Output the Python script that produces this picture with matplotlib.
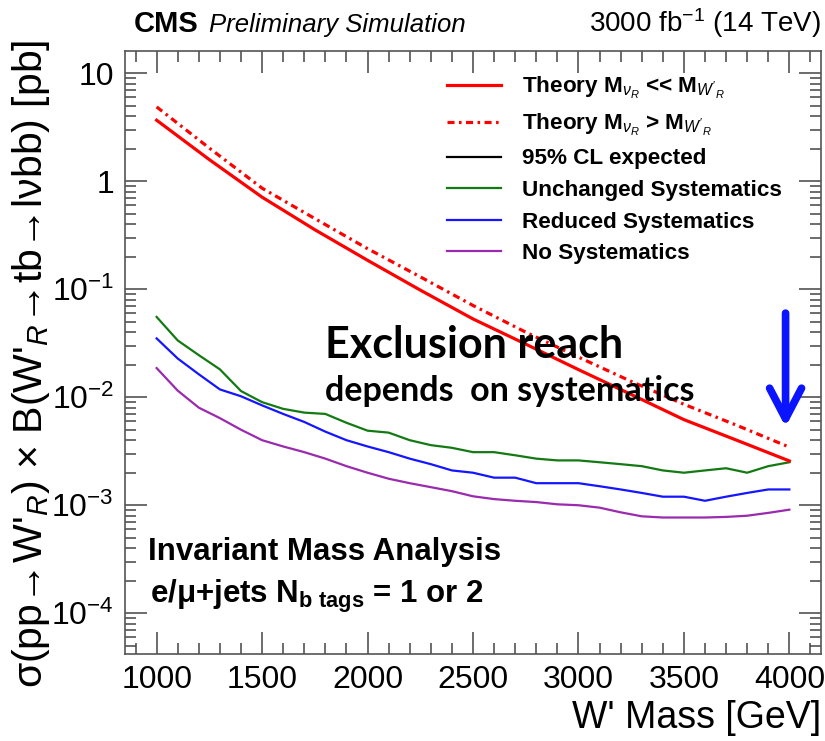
import matplotlib
matplotlib.use("Agg")
import matplotlib.pyplot as plt
from matplotlib import font_manager as fm
from matplotlib.lines import Line2D
from matplotlib.ticker import FixedLocator, NullFormatter


def pick(*names):
    for n in names:
        try:
            fm.findfont(fm.FontProperties(family=n), fallback_to_default=False)
            return n
        except Exception:
            pass
    return "DejaVu Sans"


SANS = pick("Liberation Sans Narrow", "Liberation Sans", "DejaVu Sans")
CALLOUT = pick("Lato", "Open Sans", "DejaVu Sans")

plt.rcParams["font.family"] = [SANS, "DejaVu Sans"]
plt.rcParams["mathtext.fontset"] = "custom"
plt.rcParams["mathtext.rm"] = SANS
plt.rcParams["mathtext.it"] = SANS + ":italic"
plt.rcParams["mathtext.bf"] = SANS + ":bold"

# --- theory cross sections (pb) ---
mass_theory = [1000, 1250, 1500, 1750, 2000, 2250, 2500, 2750, 3000, 3250, 3500, 3750, 4000]
theory_light_nu = [3.66, 1.58, 0.71, 0.355, 0.185, 0.098, 0.053, 0.031, 0.018, 0.0106, 0.0062, 0.0040, 0.00257]
theory_heavy_nu = [4.86, 2.02, 0.86, 0.45, 0.237, 0.130, 0.0706, 0.040, 0.0235, 0.0140, 0.0086, 0.0055, 0.00345]

# --- expected 95% CL limits (pb) ---
mass_limit = [1000, 1100, 1200, 1300, 1400, 1500, 1600, 1700, 1800, 1900, 2000,
              2100, 2200, 2300, 2400, 2500, 2600, 2700, 2800, 2900, 3000,
              3100, 3200, 3300, 3400, 3500, 3600, 3700, 3800, 3900, 4000]
limit_unchanged = [0.0553, 0.0335, 0.0245, 0.0181, 0.0114, 0.0090, 0.0078, 0.0072, 0.0070, 0.0058, 0.0049,
                   0.0047, 0.0040, 0.0036, 0.0034, 0.0031, 0.0031, 0.0029, 0.0027, 0.0026, 0.0026,
                   0.0025, 0.0024, 0.0023, 0.0021, 0.0020, 0.0021, 0.0022, 0.0020, 0.0023, 0.0025]
limit_reduced = [0.0350, 0.0228, 0.0163, 0.0118, 0.0102, 0.0084, 0.0070, 0.0059, 0.0048, 0.0040, 0.0035,
                 0.0031, 0.0027, 0.0024, 0.0021, 0.0020, 0.0018, 0.0018, 0.0016, 0.0016, 0.0016,
                 0.0015, 0.0014, 0.0013, 0.0012, 0.0012, 0.0011, 0.0012, 0.0013, 0.0014, 0.0014]
limit_nosyst = [0.0186, 0.0115, 0.0080, 0.0064, 0.0050, 0.0040, 0.0035, 0.0031, 0.0027, 0.0023, 0.0020,
                0.00176, 0.00160, 0.00147, 0.00135, 0.00121, 0.00114, 0.00110, 0.00107, 0.00102, 0.00100,
                0.00095, 0.00086, 0.00079, 0.00077, 0.00077, 0.00077, 0.00078, 0.00080, 0.00085, 0.00091]

x_ticks = [1000, 1500, 2000, 2500, 3000, 3500, 4000]
x_tick_labels = ["1000", "1500", "2000", "2500", "3000", "3500", "4000"]
y_ticks = [1e-4, 1e-3, 1e-2, 1e-1, 1, 10]
y_tick_labels = [r"$10^{-4}$", r"$10^{-3}$", r"$10^{-2}$", r"$10^{-1}$", "1", "10"]

legend_labels = [
    r"Theory M$_{\nu_{R}}$ << M$_{W'_{R}}$",
    r"Theory M$_{\nu_{R}}$ > M$_{W'_{R}}$",
    "95% CL expected",
    "Unchanged Systematics",
    "Reduced Systematics",
    "No Systematics",
]

RED = "#ff0000"
GREEN = "#137a13"
BLUE = "#1515ff"
PURPLE = "#9a2aae"
DASHDOT = (0, (2.2, 1.4, 0.8, 1.4))

W, H = 825, 741
fig = plt.figure(figsize=(W / 100, H / 100), dpi=100)
ax = fig.add_axes([125 / W, 1 - 654 / H, (821 - 125) / W, (654 - 51) / H])

ax.plot(mass_limit, limit_unchanged, color=GREEN, lw=1.6)
ax.plot(mass_limit, limit_reduced, color=BLUE, lw=1.6)
ax.plot(mass_limit, limit_nosyst, color=PURPLE, lw=1.6)
ax.plot(mass_theory, theory_heavy_nu, color=RED, lw=2.3, linestyle=DASHDOT)
ax.plot(mass_theory, theory_light_nu, color=RED, lw=2.3)

ax.set_yscale("log")
ax.set_xlim(850, 4150)
ax.set_ylim(4.2e-5, 16)

ax.xaxis.set_major_locator(FixedLocator(x_ticks))
ax.set_xticklabels(x_tick_labels)
ax.xaxis.set_minor_locator(FixedLocator(list(range(900, 4150, 100))))
ax.yaxis.set_major_locator(FixedLocator(y_ticks))
ax.set_yticklabels(y_tick_labels)
ax.yaxis.set_minor_locator(FixedLocator([m * 10.0 ** e for e in range(-5, 2) for m in range(2, 10)]))
ax.yaxis.set_minor_formatter(NullFormatter())

for spine in ax.spines.values():
    spine.set_color("#555555")
    spine.set_linewidth(1.2)
ax.tick_params(which="both", direction="in", top=True, right=True, color="#444444", width=1.1)
ax.tick_params(which="major", length=16, labelsize=23, pad=8)
ax.tick_params(which="minor", length=8)

# axis titles
fig.text(821 / W, 1 - 718 / H, "W' Mass [GeV]", fontsize=27, ha="right", va="center")
fig.text(31 / W, 1 - 40 / H,
         r"σ(pp→W'$_{R}$) × B(W'$_{R}$→tb→lνbb) [pb]",
         fontsize=29.5, rotation=90, ha="center", va="top")

# header
fig.text(134 / W, 1 - 32 / H, "CMS", fontsize=21, fontweight="bold", ha="left", va="baseline")
fig.text(209 / W, 1 - 32 / H, "Preliminary Simulation", fontsize=18.5, style="italic",
         ha="left", va="baseline")
fig.text(821 / W, 1 - 32 / H, r"3000 fb$^{-1}$ (14 TeV)", fontsize=20, ha="right", va="baseline")

# legend
handles = [
    Line2D([], [], color=RED, lw=2.3),
    Line2D([], [], color=RED, lw=2.3, linestyle=DASHDOT),
    Line2D([], [], color="black", lw=1.6),
    Line2D([], [], color=GREEN, lw=1.6),
    Line2D([], [], color=BLUE, lw=1.6),
    Line2D([], [], color=PURPLE, lw=1.6),
]
leg = ax.legend(handles, legend_labels, loc="upper left",
                bbox_to_anchor=((447 - 125) / (821 - 125), (654 - 75) / (654 - 51)),
                frameon=False, handlelength=2.4, handletextpad=0.95, labelspacing=0.47,
                borderpad=0, borderaxespad=0,
                prop={"family": [SANS, "DejaVu Sans"], "weight": "bold", "size": 16.2})

# analysis labels
fig.text(148 / W, 1 - 560 / H, "Invariant Mass Analysis", fontsize=22.5, fontweight="bold",
         ha="left", va="baseline")
fig.text(150 / W, 1 - 603 / H, r"e/μ+jets N$_{\mathbf{b\ tags}}$ = 1 or 2", fontsize=22.5,
         fontweight="bold", ha="left", va="baseline")

# annotation
fig.text(325 / W, 1 - 358 / H, "Exclusion reach", fontsize=31, fontweight="bold",
         family=CALLOUT, ha="left", va="baseline")
fig.text(325 / W, 1 - 401 / H, "depends  on systematics", fontsize=24.5, fontweight="bold",
         family=CALLOUT, ha="left", va="baseline")
ax.annotate("", xy=(3982, 5.3e-3), xytext=(3982, 0.06),
            arrowprops=dict(arrowstyle="->, head_length=2.2, head_width=1.15",
                            color="#0a14ff", lw=5.5, shrinkA=0, shrinkB=0))

fig.savefig("out.png", dpi=100)
